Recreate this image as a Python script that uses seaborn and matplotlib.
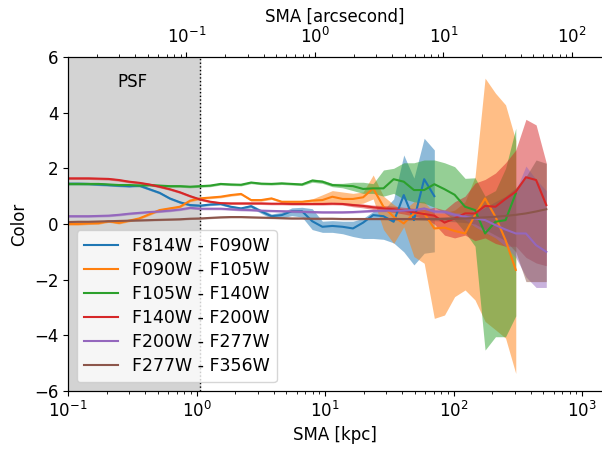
import matplotlib
matplotlib.use("Agg")
import matplotlib.pyplot as plt
import pandas as pd
import seaborn as sns

# SMA grid (kpc) and colour profiles
sma = [0.1, 0.12, 0.144, 0.173, 0.207, 0.249, 0.299, 0.358, 0.43, 0.516,
       0.619, 0.743, 0.892, 1.07, 1.28, 1.54, 1.85, 2.22, 2.66, 3.19,
       3.83, 4.6, 5.52, 6.62, 7.95, 9.54, 11.4, 13.7, 16.5, 19.8,
       23.7, 28.5, 34.2, 41.0, 49.2, 59.1, 70.9, 85.1, 102, 123,
       147, 176, 212, 254, 305, 366, 439, 527]

pairs = ["F814W - F090W", "F090W - F105W", "F105W - F140W",
         "F140W - F200W", "F200W - F277W", "F277W - F356W"]

blue = [1.45, 1.45, 1.44, 1.42, 1.40, 1.38, 1.36, 1.38, 1.25, 1.12,
        0.92, 0.78, 0.68, 0.66, 0.70, 0.72, 0.62, 0.56, 0.64, 0.45,
        0.28, 0.32, 0.46, 0.46, 0.10, -0.10, -0.07, -0.10, -0.16, 0.05,
        0.32, 0.28, 0.08, 1.04, 0.14, 1.61, 1.00]
blue_lo = [1.41, 1.41, 1.40, 1.38, 1.36, 1.34, 1.32, 1.34, 1.21, 1.08,
           0.88, 0.74, 0.64, 0.62, 0.66, 0.68, 0.58, 0.52, 0.58, 0.38,
           0.20, 0.22, 0.30, 0.25, -0.20, -0.30, -0.30, -0.35, -0.45, -0.52,
           -0.52, -0.55, -0.68, -1.00, -1.47, -1.05, -1.00]
blue_hi = [1.49, 1.49, 1.48, 1.46, 1.44, 1.42, 1.40, 1.42, 1.29, 1.16,
           0.96, 0.82, 0.72, 0.70, 0.74, 0.76, 0.66, 0.60, 0.70, 0.52,
           0.36, 0.42, 0.58, 0.60, 0.55, 0.10, 0.12, 0.10, 0.10, 0.20,
           0.45, 0.50, 0.90, 2.48, 1.65, 3.08, 2.66]

orange = [0.0, 0.0, 0.02, 0.03, 0.1, 0.04, 0.12, 0.2, 0.35, 0.5,
          0.56, 0.62, 0.84, 0.92, 0.95, 0.98, 1.04, 1.08, 0.86, 0.86,
          0.92, 0.8, 0.8, 0.8, 0.84, 0.86, 0.98, 0.9, 0.9, 0.96,
          1.28, 0.62, 0.26, 0.02, 0.38, 0.38, -0.16, -0.13, -0.25, -0.34,
          0.32, 0.92, 0.26, -0.58, -1.65]
orange_lo = [-0.04, -0.04, -0.02, -0.01, 0.06, 0.0, 0.08, 0.16, 0.31, 0.46,
             0.52, 0.58, 0.8, 0.88, 0.91, 0.94, 1.0, 1.04, 0.82, 0.82,
             0.88, 0.76, 0.76, 0.76, 0.78, 0.7, 0.78, 0.72, 0.7, 0.75,
             0.9, -0.2, -0.7, -0.1, -1.17, -1.41, -3.39, -3.27, -2.61, -2.37,
             -2.73, -3.5, -3.8, -4.1, -5.37]
orange_hi = [0.04, 0.04, 0.06, 0.07, 0.14, 0.08, 0.16, 0.24, 0.39, 0.54,
             0.6, 0.66, 0.88, 0.96, 0.99, 1.02, 1.08, 1.12, 0.9, 0.9,
             0.96, 0.84, 0.84, 0.84, 0.9, 1.05, 1.2, 1.15, 1.1, 1.15,
             1.76, 1.0, 0.7, 0.5, 0.8, 0.8, 0.4, 0.4, 0.5, 0.8,
             1.7, 5.24, 4.7, 4.28, 3.0]

green = [1.44, 1.44, 1.44, 1.44, 1.42, 1.40, 1.40, 1.38, 1.40, 1.38,
         1.36, 1.36, 1.34, 1.36, 1.38, 1.44, 1.42, 1.41, 1.49, 1.45,
         1.44, 1.46, 1.44, 1.42, 1.56, 1.52, 1.40, 1.38, 1.36, 1.26,
         1.28, 1.28, 1.61, 1.52, 1.22, 1.22, 1.43, 1.25, 1.05, 0.62,
         0.5, -0.34, 0.08, 0.14, 1.1]
green_lo = [1.4, 1.4, 1.4, 1.4, 1.38, 1.36, 1.36, 1.34, 1.36, 1.34,
            1.32, 1.32, 1.3, 1.32, 1.34, 1.4, 1.38, 1.37, 1.45, 1.41,
            1.4, 1.42, 1.4, 1.38, 1.5, 1.46, 1.34, 1.3, 1.2, 1.1,
            1.1, 1.0, 1.1, 0.9, 0.8, 0.75, 0.6, 0.4, 0.14, -0.3,
            -0.8, -4.53, -4.05, -4.05, -3.3]
green_hi = [1.48, 1.48, 1.48, 1.48, 1.46, 1.44, 1.44, 1.42, 1.44, 1.42,
            1.4, 1.4, 1.38, 1.4, 1.42, 1.48, 1.46, 1.45, 1.53, 1.49,
            1.48, 1.5, 1.48, 1.46, 1.62, 1.58, 1.46, 1.46, 1.5, 1.5,
            1.45, 1.94, 2.0, 2.2, 2.2, 2.3, 2.3, 2.2, 2.06, 1.64,
            1.66, 1.0, 1.2, 2.0, 3.44]

red = [1.64, 1.64, 1.64, 1.63, 1.62, 1.58, 1.52, 1.48, 1.42, 1.34,
       1.25, 1.14, 1.0, 0.88, 0.8, 0.75, 0.74, 0.74, 0.74, 0.74,
       0.73, 0.73, 0.72, 0.72, 0.72, 0.72, 0.73, 0.72, 0.68, 0.65,
       0.6, 0.56, 0.53, 0.48, 0.42, 0.36, 0.3, 0.05, 0.2, 0.38,
       0.38, 0.65, 0.62, 0.9, 1.16, 1.68, 1.58, 0.68]
red_lo = [1.6, 1.6, 1.6, 1.59, 1.58, 1.54, 1.48, 1.44, 1.38, 1.3,
          1.21, 1.1, 0.96, 0.84, 0.76, 0.71, 0.7, 0.7, 0.7, 0.7,
          0.69, 0.69, 0.68, 0.68, 0.68, 0.68, 0.69, 0.68, 0.62, 0.58,
          0.52, 0.46, 0.42, 0.36, 0.28, 0.2, 0.0, -0.4, -0.5, -0.4,
          -0.6, -0.5, -0.7, -0.8, -0.8, -1.2, -1.4, -1.5]
red_hi = [1.68, 1.68, 1.68, 1.67, 1.66, 1.62, 1.56, 1.52, 1.46, 1.38,
          1.29, 1.18, 1.04, 0.92, 0.84, 0.79, 0.78, 0.78, 0.78, 0.78,
          0.77, 0.77, 0.76, 0.76, 0.76, 0.76, 0.77, 0.76, 0.74, 0.72,
          0.68, 0.66, 0.64, 0.6, 0.56, 0.52, 0.6, 0.5, 0.8, 1.0,
          1.47, 1.6, 1.83, 2.2, 2.66, 3.76, 3.56, 2.19]

purple = [0.28, 0.28, 0.28, 0.29, 0.3, 0.33, 0.37, 0.4, 0.43, 0.45,
          0.48, 0.52, 0.58, 0.55, 0.55, 0.55, 0.53, 0.51, 0.5, 0.48,
          0.47, 0.46, 0.45, 0.44, 0.43, 0.42, 0.42, 0.42, 0.43, 0.45,
          0.47, 0.48, 0.48, 0.48, 0.5, 0.56, 0.45, 0.44, 0.33, 0.26,
          0.2, 0.14, -0.04, -0.2, -0.34, -0.34, -0.76, -1.0]
purple_lo = [0.24, 0.24, 0.24, 0.25, 0.26, 0.29, 0.33, 0.36, 0.39, 0.41,
             0.44, 0.48, 0.54, 0.51, 0.51, 0.51, 0.49, 0.47, 0.46, 0.44,
             0.43, 0.42, 0.41, 0.4, 0.39, 0.38, 0.38, 0.38, 0.39, 0.41,
             0.43, 0.44, 0.44, 0.44, 0.46, 0.52, 0.4, 0.38, 0.25, 0.15,
             -0.1, -0.3, -0.5, -0.8, -1.2, -1.9, -2.28, -2.28]
purple_hi = [0.32, 0.32, 0.32, 0.33, 0.34, 0.37, 0.41, 0.44, 0.47, 0.49,
             0.52, 0.56, 0.62, 0.59, 0.59, 0.59, 0.57, 0.55, 0.54, 0.52,
             0.51, 0.5, 0.49, 0.48, 0.47, 0.46, 0.46, 0.46, 0.47, 0.49,
             0.51, 0.52, 0.52, 0.52, 0.54, 0.6, 0.5, 0.5, 0.41, 0.37,
             0.5, 0.6, 0.7, 0.9, 1.2, 2.08, 1.6, 1.2]

brown = [0.07, 0.08, 0.08, 0.09, 0.1, 0.11, 0.12, 0.13, 0.14, 0.15,
         0.16, 0.17, 0.19, 0.2, 0.22, 0.24, 0.25, 0.25, 0.24, 0.23,
         0.22, 0.21, 0.2, 0.2, 0.19, 0.19, 0.19, 0.18, 0.18, 0.18,
         0.18, 0.18, 0.18, 0.18, 0.18, 0.18, 0.18, 0.18, 0.19, 0.2,
         0.22, 0.24, 0.26, 0.29, 0.33, 0.38, 0.45, 0.53]
brown_lo = [0.04, 0.05, 0.05, 0.06, 0.07, 0.08, 0.09, 0.1, 0.11, 0.12,
            0.13, 0.14, 0.16, 0.17, 0.19, 0.21, 0.22, 0.22, 0.21, 0.2,
            0.19, 0.18, 0.17, 0.17, 0.16, 0.16, 0.16, 0.15, 0.15, 0.15,
            0.15, 0.15, 0.14, 0.14, 0.14, 0.13, 0.12, 0.1, 0.08, 0.05,
            0.0, -0.2, -0.4, -0.6, -1.0, -2.07, -2.07, -2.07]
brown_hi = [0.1, 0.11, 0.11, 0.12, 0.13, 0.14, 0.15, 0.16, 0.17, 0.18,
            0.19, 0.2, 0.22, 0.23, 0.25, 0.27, 0.28, 0.28, 0.27, 0.26,
            0.25, 0.24, 0.23, 0.23, 0.22, 0.22, 0.22, 0.21, 0.21, 0.21,
            0.21, 0.21, 0.22, 0.22, 0.22, 0.23, 0.24, 0.26, 0.28, 0.32,
            0.4, 0.6, 0.8, 1.0, 1.3, 1.7, 2.3, 2.18]

psf_edge = 1.07      # kpc
kpc_per_arcsec = 8.35
xmax = 1430

series = [(blue, blue_lo, blue_hi), (orange, orange_lo, orange_hi),
          (green, green_lo, green_hi), (red, red_lo, red_hi),
          (purple, purple_lo, purple_hi), (brown, brown_lo, brown_hi)]
colors = sns.color_palette("tab10", 6)

rows = []
for name, (y, lo, hi) in zip(pairs, series):
    for i in range(len(y)):
        rows.append((name, sma[i], y[i], lo[i], hi[i]))
df = pd.DataFrame(rows, columns=["pair", "sma", "color", "lo", "hi"])

fig = plt.figure(figsize=(6.02, 4.49), dpi=100)
ax = fig.add_axes([68 / 602, 58 / 449, 534 / 602, 334 / 449])

ax.axvspan(0.1, psf_edge, color="lightgray", zorder=0)
ax.axvline(psf_edge, color="k", ls=":", lw=1)
ax.text(0.32, 5.1, "PSF", fontsize=12, ha="center", va="center")

for (name, d), c in zip(df.groupby("pair", sort=False), colors):
    ax.fill_between(d.sma, d.lo, d.hi, color=c, alpha=0.5, lw=0)

sns.lineplot(df, x="sma", y="color", hue="pair", hue_order=pairs,
             palette=colors, sort=False, linewidth=1.5, ax=ax)

ax.set_xscale("log")
ax.set_xlim(0.1, xmax)
ax.set_ylim(-6, 6)
ax.set_yticks([-6, -4, -2, 0, 2, 4, 6])
ax.set_xlabel("SMA [kpc]", fontsize=12)
ax.set_ylabel("Color", fontsize=12)
ax.tick_params(labelsize=12)
sns.move_legend(ax, "lower left", title=None, fontsize=12.5, labelspacing=0.35)

top = ax.twiny()
top.set_xscale("log")
top.set_xlim(0.1 / kpc_per_arcsec, xmax / kpc_per_arcsec)
top.set_xlabel("SMA [arcsecond]", fontsize=12)
top.tick_params(labelsize=12)

# the original is cropped right at the plot edge: no right spine shows
ax.spines["right"].set_visible(False)
top.spines["right"].set_visible(False)

fig.savefig("out.png", dpi=100)
